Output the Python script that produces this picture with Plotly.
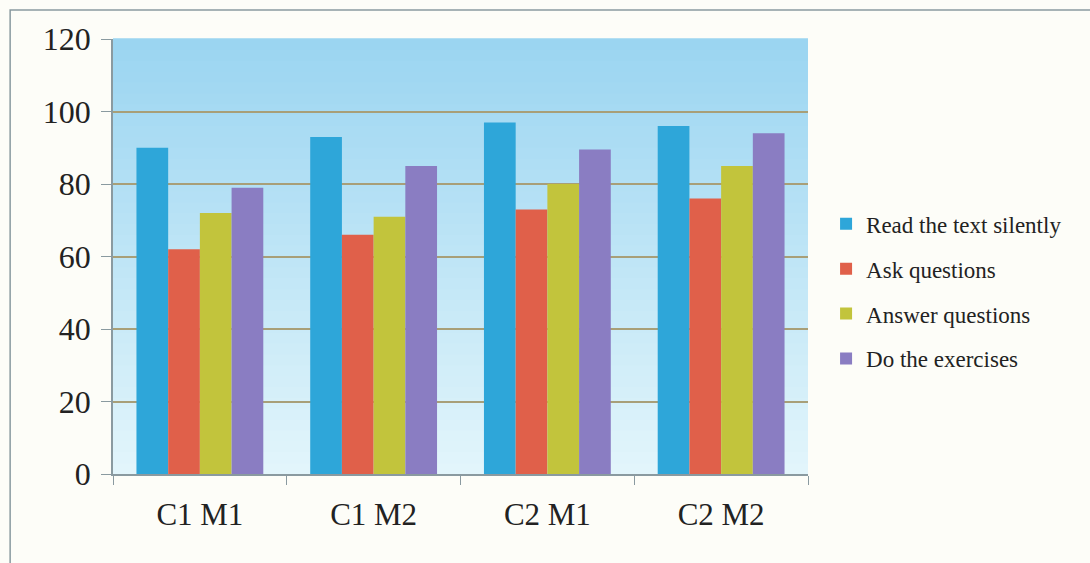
import plotly.graph_objects as go

categories = ["C1 M1", "C1 M2", "C2 M1", "C2 M2"]
series_names = ["Read the text silently", "Ask questions", "Answer questions", "Do the exercises"]
read_silently = [90, 93, 97, 96]
ask_questions = [62, 66, 73, 76]
answer_questions = [72, 71, 80, 85]
do_exercises = [79, 85, 89.5, 94]
y_ticks = [0, 20, 40, 60, 80, 100, 120]

colors = ["#2ea6d9", "#e0604a", "#c2c43c", "#8a7dc2"]
values = [read_silently, ask_questions, answer_questions, do_exercises]

fig = go.Figure()
for name, vals, col in zip(series_names, values, colors):
    fig.add_trace(go.Bar(x=categories, y=vals, name=name, marker_color=col,
                         marker_line_width=0, legendgroup=name))

# vertical gradient background for the plot area
shapes = []
n = 40
top = (155, 213, 241)
bot = (226, 245, 251)
for i in range(n):
    t = i / (n - 1)
    r = round(bot[0] + (top[0] - bot[0]) * t)
    g = round(bot[1] + (top[1] - bot[1]) * t)
    b = round(bot[2] + (top[2] - bot[2]) * t)
    shapes.append(dict(type="rect", xref="paper", yref="paper",
                       x0=0, x1=1, y0=i / n, y1=(i + 1) / n + 0.002,
                       fillcolor=f"rgb({r},{g},{b})", line_width=0, layer="below"))
# outer frame
shapes.append(dict(type="rect", xref="paper", yref="paper",
                   x0=-0.148, x1=1.45, y0=-0.35, y1=1.0667,
                   line=dict(color="#8a9aa0", width=1.5), fillcolor="rgba(0,0,0,0)", layer="above"))

fig.update_layout(
    width=1090, height=563,
    margin=dict(l=113, r=282, t=39, b=89),
    paper_bgcolor="#fdfdf8",
    plot_bgcolor="#d8f0f9",
    barmode="group",
    bargap=0.27,
    bargroupgap=0,
    shapes=shapes,
    font=dict(family="Liberation Serif", color="#222222"),
    legend=dict(x=1.026, y=0.42, xanchor="left", yanchor="middle",
                font=dict(size=23, family="Liberation Serif", color="#222222"),
                tracegroupgap=12, itemwidth=30, bgcolor="rgba(0,0,0,0)"),
    showlegend=True,
)
fig.update_xaxes(
    type="category", tickson="boundaries", ticks="outside", ticklen=9,
    tickcolor="#8a9aa0", showline=True, linecolor="#8a9aa0", linewidth=1.5,
    tickfont=dict(size=31, family="Liberation Serif", color="#222222"),
    showgrid=False,
)
fig.update_yaxes(
    range=[0, 120], tickvals=y_ticks, ticks="outside", ticklen=10,
    tickcolor="#8a9aa0", showline=True, linecolor="#8a9aa0", linewidth=1.5,
    showgrid=True, gridcolor="#a89f78", gridwidth=1.5, zeroline=False,
    tickfont=dict(size=32, family="Liberation Serif", color="#222222"),
)
fig.update_xaxes(ticklabelstandoff=12)
fig.update_yaxes(ticklabelstandoff=4)

fig.write_html("out.html")
